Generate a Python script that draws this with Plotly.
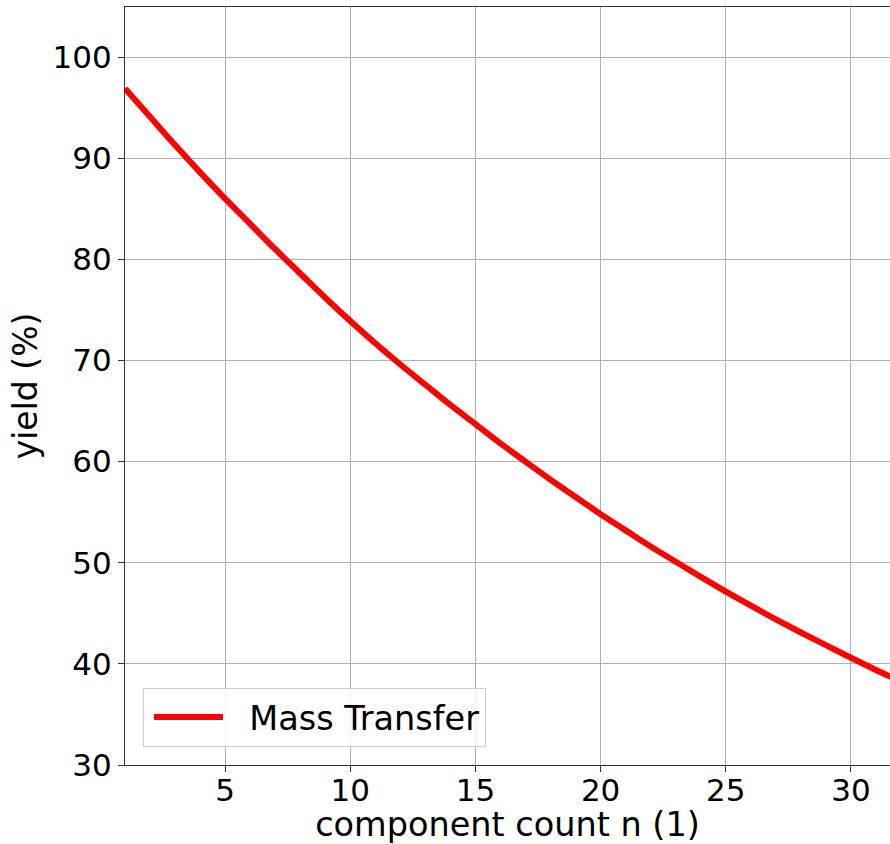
import plotly.graph_objects as go

# component count n (1)
n_values = [1, 2, 3, 4, 5, 6, 7, 8, 9, 10, 11, 12, 13, 14, 15, 16,
            17, 18, 19, 20, 21, 22, 23, 24, 25, 26, 27, 28, 29, 30, 31, 32]
# yield (%)
yield_values = [96.9, 94.1, 91.3, 88.6, 86.0, 83.5, 81.0, 78.6, 76.2, 73.9,
                71.7, 69.6, 67.6, 65.6, 63.7, 61.8, 60.0, 58.2, 56.5, 54.8,
                53.2, 51.6, 50.1, 48.6, 47.15, 45.75, 44.4, 43.1, 41.85, 40.6,
                39.4, 38.25]
series_name = "Mass Transfer"
x_ticks = [5, 10, 15, 20, 25, 30]
y_ticks = [30, 40, 50, 60, 70, 80, 90, 100]

FONT = "DejaVu Sans"

fig = go.Figure()
fig.add_trace(go.Scatter(
    x=n_values, y=yield_values, mode="lines",
    name="\u00a0\u00a0" + series_name,
    line=dict(color="#ff0000", width=6, shape="spline"),
))

fig.update_layout(
    width=890, height=844,
    margin=dict(l=125, r=0, t=7, b=79),
    paper_bgcolor="white", plot_bgcolor="white",
    font=dict(family=FONT, size=31, color="black"),
    showlegend=True,
    legend=dict(
        x=0.0235, y=0.024, xanchor="left", yanchor="bottom",
        bgcolor="rgba(255,255,255,0.8)", bordercolor="#cccccc", borderwidth=1,
        font=dict(family=FONT, size=33.5, color="black"),
        itemwidth=69, indentation=5,
    ),
)
fig.update_xaxes(
    range=[1, 31.56], tickvals=x_ticks, ticks="outside", ticklen=6, tickwidth=1.3,
    tickcolor="#333333", showline=True, linecolor="#333333", linewidth=1.3, mirror=True,
    showgrid=True, gridcolor="#b0b0b0", gridwidth=1, zeroline=False,
    tickfont=dict(size=31), ticklabelstandoff=-8,
    title=dict(text="component count n (1)", font=dict(size=33.5), standoff=4),
)
fig.update_yaxes(
    range=[30, 104.95], tickvals=y_ticks, ticks="outside", ticklen=6, tickwidth=1.3,
    tickcolor="#333333", showline=True, linecolor="#333333", linewidth=1.3, mirror=False,
    showgrid=True, gridcolor="#b0b0b0", gridwidth=1, zeroline=False,
    tickfont=dict(size=31),
    title=dict(text="yield (%)", font=dict(size=33), standoff=4),
)

fig.write_html("out.html", config={"displayModeBar": False},
               post_script="document.body.style.margin='0px';")
